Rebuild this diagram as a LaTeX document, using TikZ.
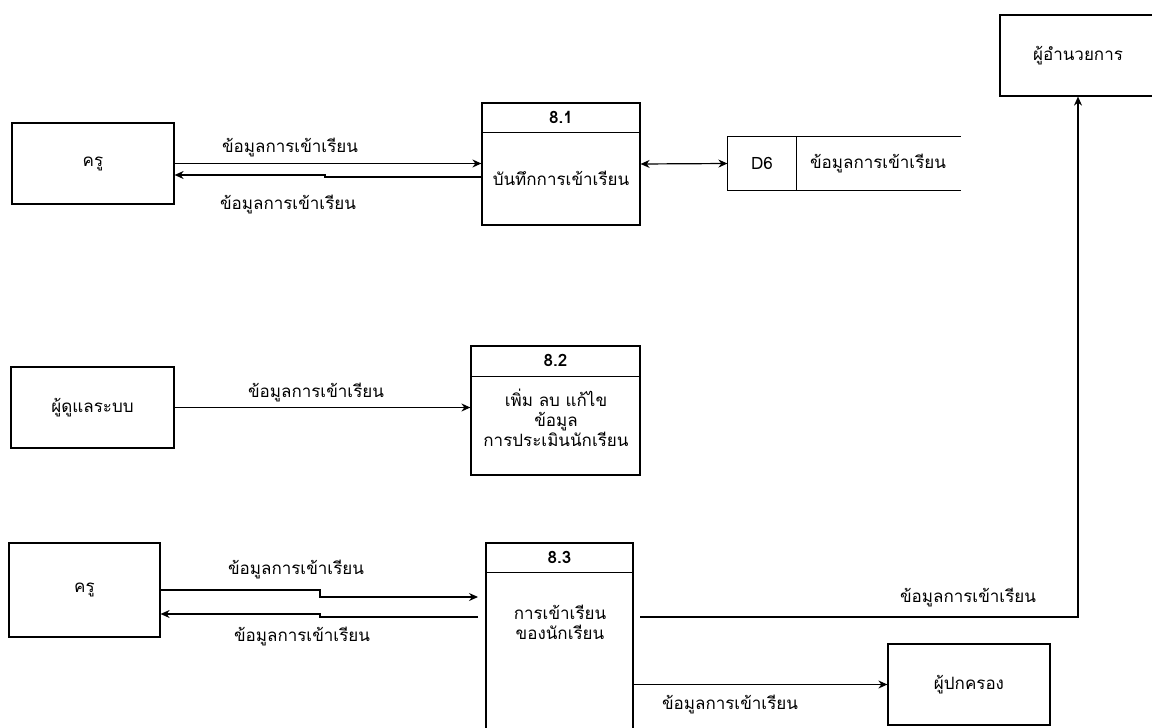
\documentclass[tikz,border=0pt]{standalone}
\usepackage{fontspec}
\setmainfont[Script=Thai]{Loma}
\usetikzlibrary{arrows.meta}
\tikzset{>={Stealth[length=9pt,width=8pt]}}

\begin{document}
\begin{tikzpicture}[x=1pt,y=-1pt,line width=1.2pt,
    every node/.style={font=\fontsize{17}{20}\selectfont},
    ent/.style={draw, inner sep=0pt},
    proc/.style={draw, inner sep=0pt},
    lbl/.style={inner sep=1pt},
    flow/.style={->}]
    \useasboundingbox (0,0) rectangle (1152,728);

    % external entities
    \node[ent, minimum width=162, minimum height=81] (kruA) at (93,163.5) {ครู};
    \node[ent, minimum width=163, minimum height=81] (sysad) at (92.5,407.5) {ผู้ดูแลระบบ};
    \node[ent, minimum width=151, minimum height=94] (kruB) at (84.5,590) {ครู};
    \node[ent, minimum width=156, minimum height=81] (admin) at (1078,55.5) {ผู้อำนวยการ};
    \node[ent, minimum width=162, minimum height=81] (parent) at (969,684.5) {ผู้ปกครอง};

    % processes
    \node[proc, minimum width=158, minimum height=122] (p81) at (561,164) {};
    \draw ([yshift=-30]p81.north west) -- ([yshift=-30]p81.north east);
    \node[font=\fontsize{17}{20}\selectfont\bfseries] (p81id) at ([yshift=-15]p81.north) {8.1};
    \node (p81txt) at (561,178) {บันทึกการเข้าเรียน};

    \node[proc, minimum width=169, minimum height=129] (p82) at (555.5,410.5) {};
    \draw ([yshift=-31]p82.north west) -- ([yshift=-31]p82.north east);
    \node[font=\fontsize{17}{20}\selectfont\bfseries] (p82id) at ([yshift=-15.5]p82.north) {8.2};
    \node[align=center] (p82txt) at (556,418) {เพิ่ม ลบ แก้ไข\\ข้อมูล\\การประเมินนักเรียน};

    \node[proc, minimum width=147, minimum height=217] (p83) at (559.5,651.5) {};
    \draw ([yshift=-30]p83.north west) -- ([yshift=-30]p83.north east);
    \node[font=\fontsize{17}{20}\selectfont\bfseries] (p83id) at ([yshift=-15]p83.north) {8.3};
    \node[align=center] (p83txt) at (560,622) {การเข้าเรียน\\ของนักเรียน};

    % data store
    \node[minimum width=232, minimum height=53, inner sep=0pt] (d6) at (844,163.5) {};
    \draw (d6.north east) -- (d6.north west) -- (d6.south west) -- (d6.south east);
    \draw ([xshift=69]d6.north west) -- ([xshift=69]d6.south west);
    \node (d6id) at (762,163.5) {D6};
    \node (d6txt) at (878,163.5) {ข้อมูลการเข้าเรียน};

    % flows 8.1
    \draw[flow] (kruA.east) -- (kruA.east -| p81.west);
    \draw[flow] ([yshift=-13]p81.west) -- (325,177) -- (325,175) -- (kruA.east |- 0,175);
    \draw[<->] (p81.east) -- (d6.west);
    \node[lbl] (l1) at (290,148) {ข้อมูลการเข้าเรียน};
    \node[lbl] (l2) at (288,205) {ข้อมูลการเข้าเรียน};

    % flows 8.2
    \draw[flow] (sysad.east) -- (sysad.east -| p82.west);
    \node[lbl] (l3) at (316,393) {ข้อมูลการเข้าเรียน};

    % flows 8.3
    \draw[flow] (kruB.east) -- (320,590) -- (320,597) -- (478,597);
    \draw[flow] (478,617) -- (320,617) -- (320,614) -- (kruB.east |- 0,614);
    \draw[flow] (640,617) -| (admin.south);
    \draw[flow] (p83.east |- parent.west) -- (parent.west);
    \node[lbl] (l4) at (296,570) {ข้อมูลการเข้าเรียน};
    \node[lbl] (l5) at (302,637) {ข้อมูลการเข้าเรียน};
    \node[lbl] (l6) at (968,598) {ข้อมูลการเข้าเรียน};
    \node[lbl] (l7) at (730,705) {ข้อมูลการเข้าเรียน};
\end{tikzpicture}
\end{document}
